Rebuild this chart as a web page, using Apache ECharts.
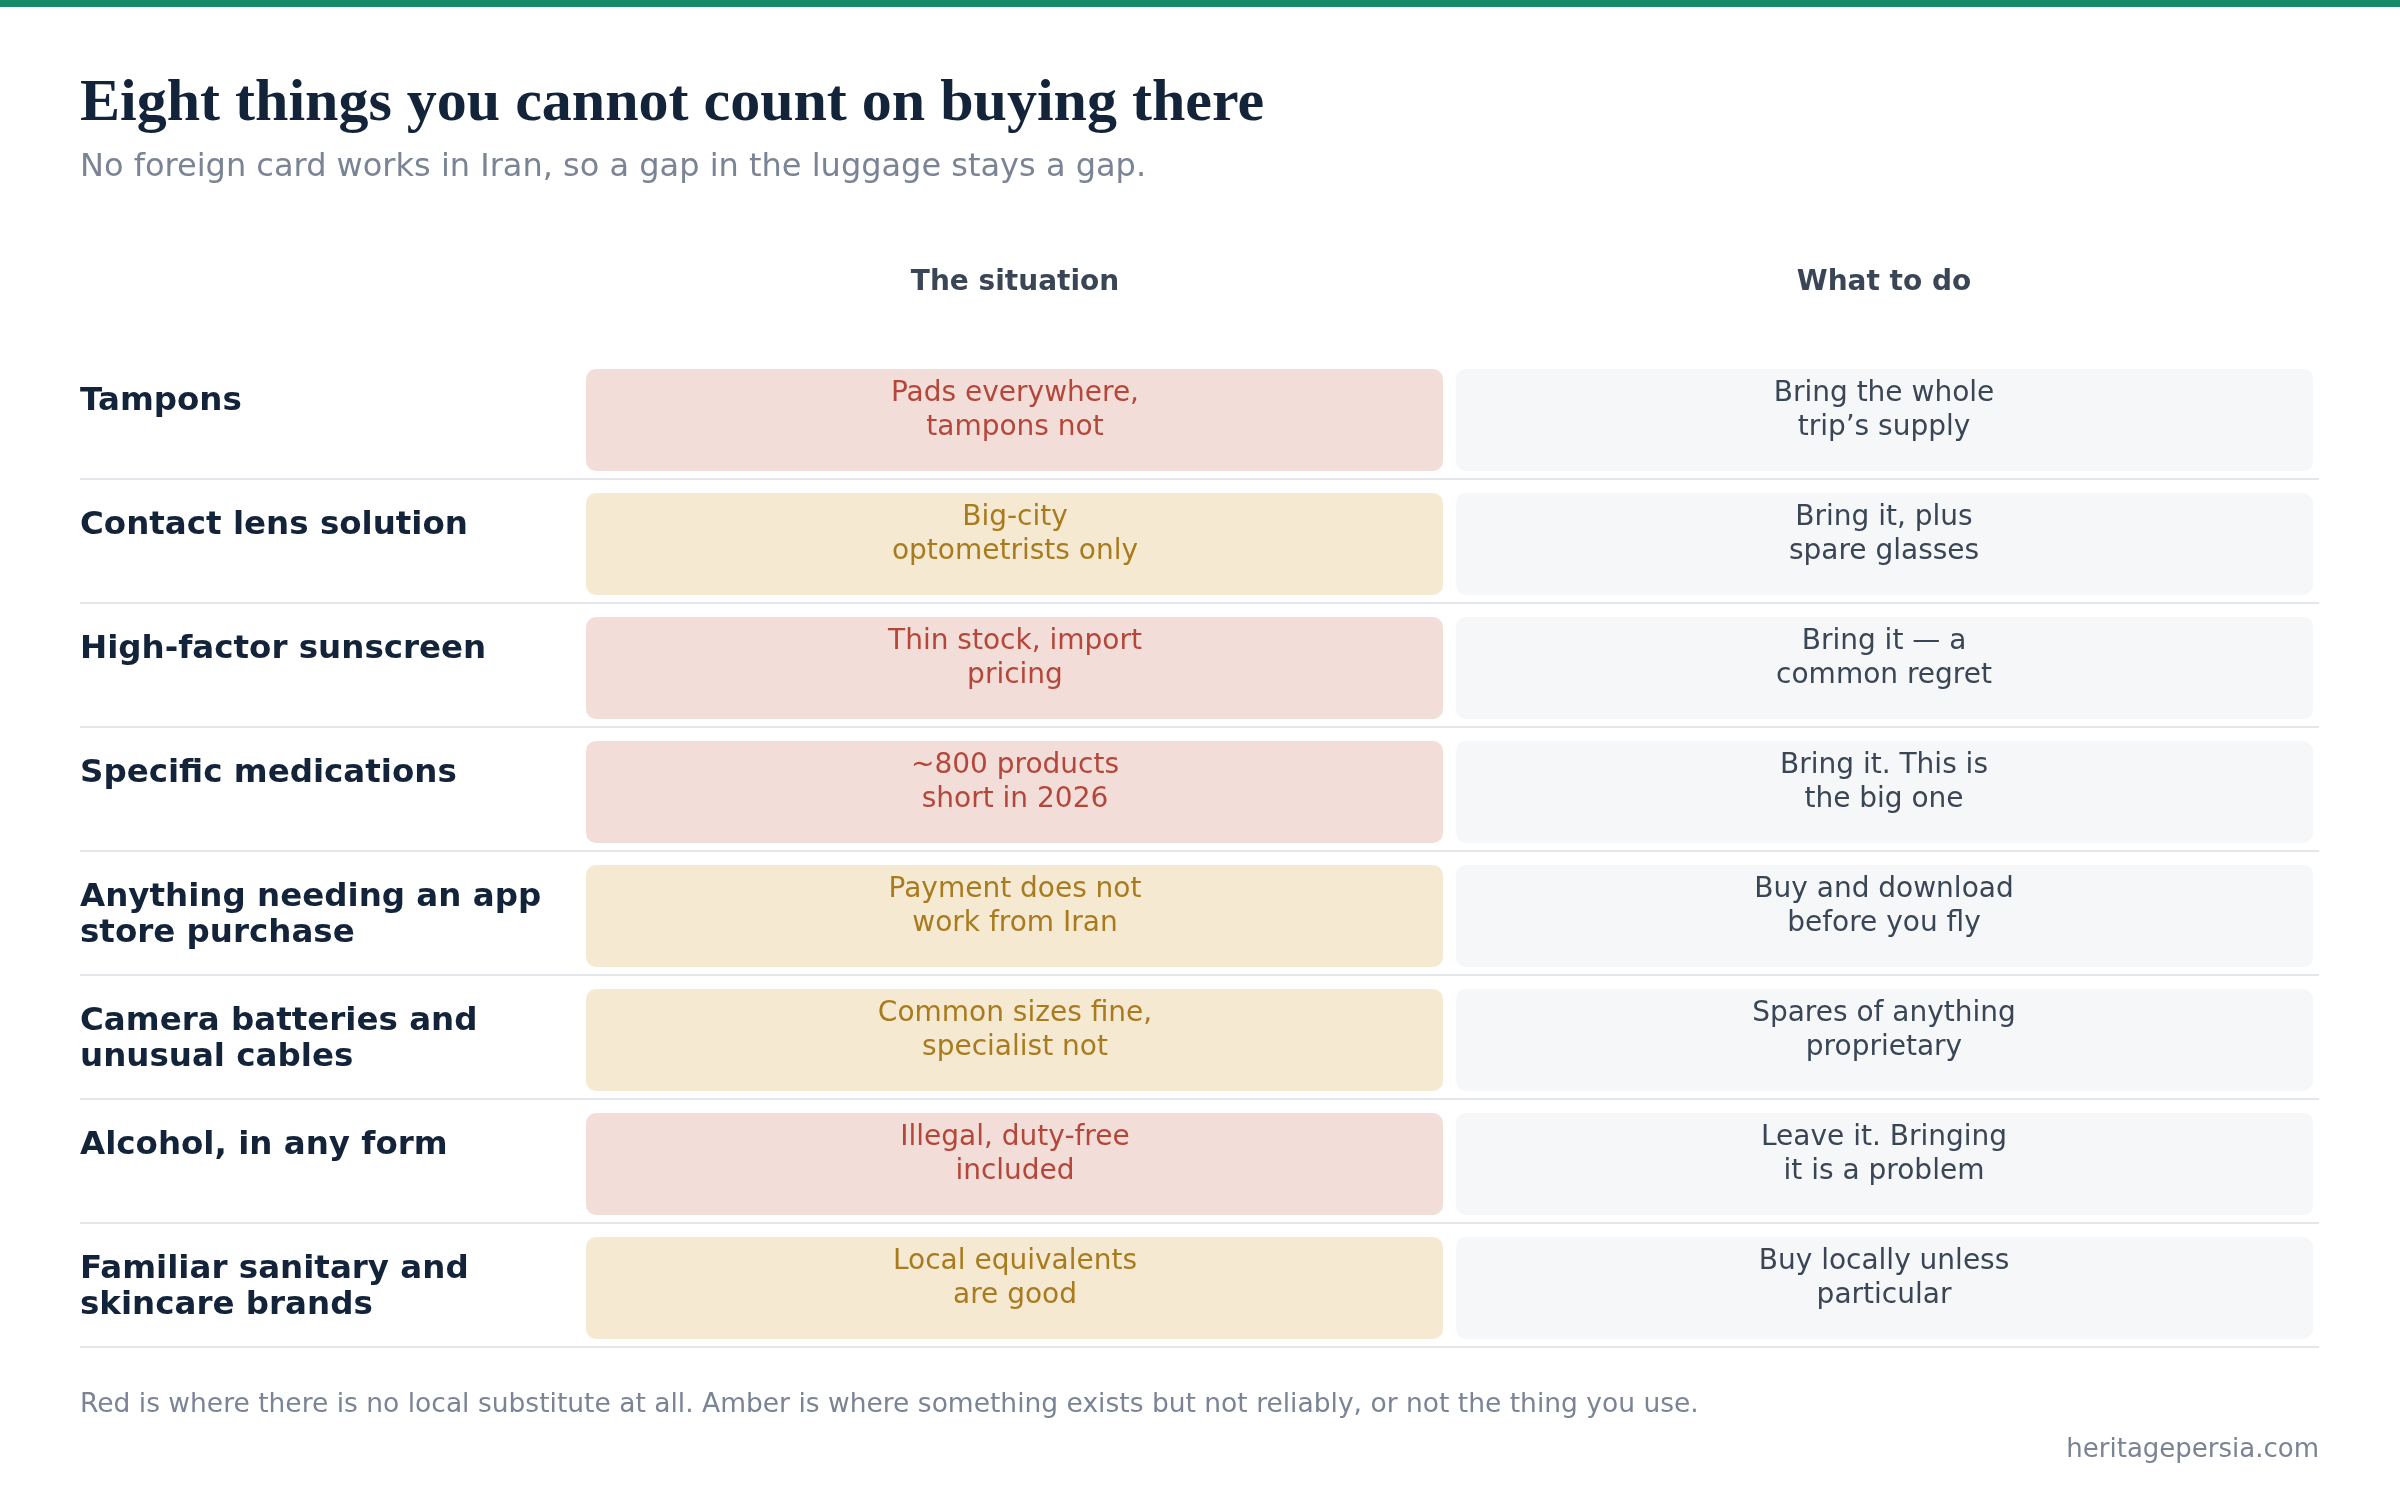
<!DOCTYPE html>
<html><head><meta charset="utf-8">
<script src="https://cdn.jsdelivr.net/npm/echarts@6/dist/echarts.min.js"></script>
<style>html,body{margin:0;padding:0;background:#fff}#c{width:2400px;height:1492px}</style>
</head><body><div id="c"></div>
<script>
const items = ["Tampons","Contact lens solution","High-factor sunscreen","Specific medications","Anything needing an app\nstore purchase","Camera batteries and\nunusual cables","Alcohol, in any form","Familiar sanitary and\nskincare brands"];
const situation = ["Pads everywhere,\ntampons not","Big-city\noptometrists only","Thin stock, import\npricing","~800 products\nshort in 2026","Payment does not\nwork from Iran","Common sizes fine,\nspecialist not","Illegal, duty-free\nincluded","Local equivalents\nare good"];
const severity = ["red","amber","red","red","amber","amber","red","amber"];
const advice = ["Bring the whole\ntrip\u2019s supply","Bring it, plus\nspare glasses","Bring it \u2014 a\ncommon regret","Bring it. This is\nthe big one","Buy and download\nbefore you fly","Spares of anything\nproprietary","Leave it. Bringing\nit is a problem","Buy locally unless\nparticular"];
const columns = ["The situation","What to do"];

const F = '"DejaVu Sans", sans-serif';
const pal = {red:{bg:'#f2ddd8',fg:'#b5473a'},amber:{bg:'#f6e9d2',fg:'#a87c1e'}};
const chart = echarts.init(document.getElementById('c'));
chart.setOption({
  backgroundColor:'#fff',
  animation:false,
  title:[
    {text:'Eight things you cannot count on buying there',left:80,top:74,padding:0,textStyle:{fontFamily:'"Liberation Serif", serif',fontWeight:'bold',fontSize:60,color:'#13243a'}},
    {text:'No foreign card works in Iran, so a gap in the luggage stays a gap.',left:80,top:152,padding:0,textStyle:{fontFamily:F,fontWeight:'normal',fontSize:32,color:'#7a8494'}},
    {text:'Red is where there is no local substitute at all. Amber is where something exists but not reliably, or not the thing you use.',left:80,top:1392,padding:0,textStyle:{fontFamily:F,fontWeight:'normal',fontSize:26.5,color:'#7a8494'}},
    {text:'heritagepersia.com',right:81,top:1437,padding:0,textStyle:{fontFamily:F,fontWeight:'normal',fontSize:26,color:'#7a8494'}}
  ],
  graphic:[{type:'rect',shape:{x:0,y:0,width:2400,height:7},style:{fill:'#178a68'}}],
  grid:{left:80,right:81,top:355,height:992},
  xAxis:{type:'value',min:0,max:1,show:false},
  yAxis:{type:'category',data:items,inverse:true,show:false},
  series:[{
    type:'custom',
    data:items.map((_,i)=>[0,i]),
    renderItem:function(params,api){
      const i = api.value(1);
      const c = api.coord([0,i]);
      const h = api.size([0,1])[1];
      const top = c[1]-h/2;
      const p = pal[severity[i]];
      const children = [
        {type:'line',shape:{x1:80,y1:top+h,x2:2319,y2:top+h},style:{stroke:'#e3e6ea',lineWidth:2}},
        {type:'rect',shape:{x:586,y:top+14,width:857,height:102,r:10},style:{fill:p.bg}},
        {type:'rect',shape:{x:1456,y:top+14,width:857,height:102,r:10},style:{fill:'#f5f7f9'}},
        {type:'text',style:{x:80,y:top+29,text:items[i],font:'bold 32.5px '+F,fill:'#13243a',lineHeight:36,verticalAlign:'top'}},
        {type:'text',style:{x:1015,y:top+22,text:situation[i],font:'28px '+F,fill:p.fg,lineHeight:34,align:'center',verticalAlign:'top'}},
        {type:'text',style:{x:1884,y:top+22,text:advice[i],font:'28px '+F,fill:'#3a4656',lineHeight:34,align:'center',verticalAlign:'top'}}
      ];
      if(i===0){
        children.push({type:'text',style:{x:1015,y:283,text:columns[0],font:'bold 28px '+F,fill:'#3a4656',align:'center',verticalAlign:'middle'}});
        children.push({type:'text',style:{x:1884,y:283,text:columns[1],font:'bold 28px '+F,fill:'#3a4656',align:'center',verticalAlign:'middle'}});
      }
      return {type:'group',children:children};
    }
  }]
});
</script></body></html>
